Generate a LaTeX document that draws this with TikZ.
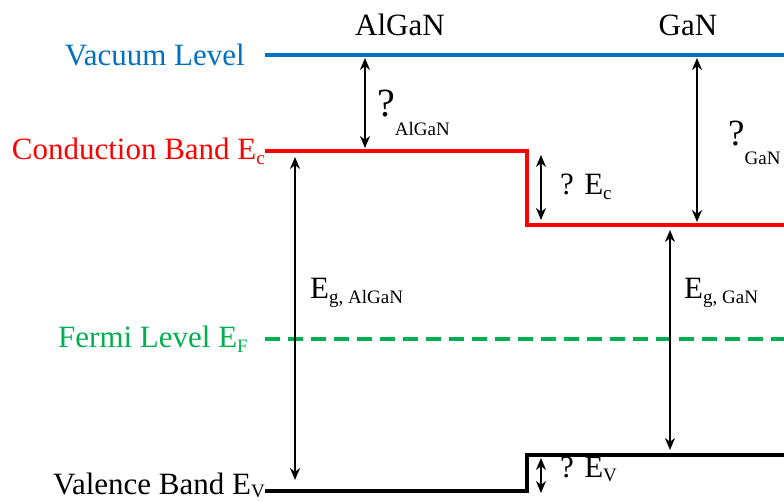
\documentclass[tikz,border=0pt]{standalone}
\usepackage{fontspec}
\setmainfont{Liberation Serif}
\usetikzlibrary{arrows.meta}
\definecolor{vacblue}{RGB}{0,112,192}
\definecolor{fermigreen}{RGB}{0,176,80}
\newcommand{\dn}[1]{\raisebox{-4.5pt}{\fontsize{19}{19}\selectfont #1}}
\newcommand{\chilbl}[2]{{\fontsize{#1}{#1}\selectfont ?}\raisebox{-19pt}{\fontsize{19}{19}\selectfont #2}}

\begin{document}
\begin{tikzpicture}[x=1pt, y=-1pt, every node/.style={font=\fontsize{31}{36}\selectfont, inner sep=0pt},
	band/.style={line width=3.5pt},
	gap/.style={{Stealth[length=12pt,width=10pt]}-{Stealth[length=12pt,width=10pt]}, line width=2.6pt}]
	\useasboundingbox (0,0) rectangle (784,502);
	% band edges
	\coordinate (vacL) at (265,55);  \coordinate (vacR) at (784,55);
	\coordinate (ecL) at (265,151);  \coordinate (ecR) at (784,225);
	\coordinate (efL) at (265,339);  \coordinate (efR) at (784,339);
	\coordinate (evL) at (265,491);  \coordinate (evR) at (784,455);
	\draw[band, vacblue] (vacL) -- (vacR);
	\draw[band, red] (ecL) -- (527,151) -- (527,225) -- (ecR);
	\draw[band, fermigreen, dash pattern=on 15pt off 8pt] (efL) -- (efR);
	\draw[band] (evL) -- (527,491) -- (527,455) -- (evR);
	% level names
	\node[anchor=base east, text=vacblue] (vac) at (245,66) {Vacuum Level};
	\node[anchor=base east, text=red] (ec) at (265,160) {Conduction Band E\dn{c}};
	\node[anchor=base east, text=fermigreen] (ef) at (248,348) {Fermi Level E\dn{F}};
	\node[anchor=base east] (ev) at (265,494) {Valence Band E\raisebox{-3.5pt}{\fontsize{19}{19}\selectfont V}};
	\node[anchor=base] (algan) at (400,36) {AlGaN};
	\node[anchor=base] (gan) at (688,36) {GaN};
	% arrow ends
	\foreach \n/\x/\ya/\yb in {chia/365/58/148, chib/697/58/222, dec/541/155/220, ega/295/157/480, egb/670/230/450, dev/541/458/493} {
		\coordinate (\n1) at (\x,\ya); \coordinate (\n2) at (\x,\yb);
		\draw[gap] (\n1) -- (\n2);
	}
	% gap labels
	\node[anchor=base west] (chialbl) at (377,117) {\chilbl{40}{AlGaN}};
	\node[anchor=base west] (chiblbl) at (728,146) {\chilbl{37}{GaN}};
	\node[anchor=base west] (declbl) at (560,195) {? E\dn{c}};
	\node[anchor=base west] (devlbl) at (560,477) {? E\dn{V}};
	\node[anchor=base west] (egalbl) at (310,299) {E\dn{g, AlGaN}};
	\node[anchor=base west] (egblbl) at (684,299) {E\dn{g, GaN}};
\end{tikzpicture}
\end{document}
